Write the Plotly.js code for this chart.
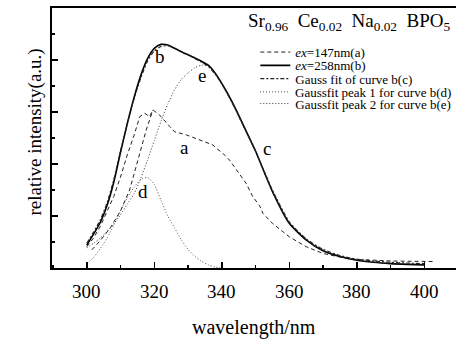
<!DOCTYPE html>
<html>
<head>
<meta charset="utf-8">
<script src="https://cdn.plot.ly/plotly-3.0.1.min.js"></script>
<style>
  html, body { margin: 0; padding: 0; background: #fff; }
  #chart { width: 457px; height: 340px; }
</style>
</head>
<body>
<div id="chart"></div>
<script>
// ---- data ----
const wavelength = [300,302,304,306,308,310,312,314,316,318,320,322,324,326,328,330,332,334,336,338,340,342,344,346,348,350,355,360,365,370,375,380,385,390,395,400];

// curve a: ex=147nm (two dashed branches on the rising side, joined by a gap)
const aWavelength = [301.5,304,307,310,312.7,315.7,317.6,319.6,null,
  300,302,304,306,308,310,312,314,315.7,317.2,318.6,319.6,321.6,324.6,326,329.5,333.4,337.4,338.4,340,342.3,345.3,347.2,349.2,351.2,352.2,355,360,365,370,375,380,385,390,395,400,402.5];
const aIntensity = [0.7,1.05,1.55,2.2,3.0,4.41,5.3,6.08,null,
  0.82,1.15,1.6,2.15,2.75,3.5,4.35,5.1,5.82,5.95,5.82,6.08,5.88,5.44,5.24,5.12,4.92,4.73,4.6,4.45,4.15,3.58,3.26,2.74,2.4,2.1,1.72,1.2,0.82,0.56,0.42,0.33,0.29,0.27,0.26,0.25,0.25];

// curve b: ex=258nm
const bIntensity = [0.88,1.3,1.75,2.4,3.3,4.45,5.55,6.55,7.4,8.05,8.45,8.6,8.58,8.45,8.32,8.2,8.08,7.95,7.8,7.5,7.1,6.65,6.15,5.6,5.05,4.5,2.95,1.72,1.08,0.66,0.44,0.3,0.22,0.17,0.14,0.12];

// curve c: Gauss fit of curve b
const cIntensity = [0.95,1.38,1.85,2.5,3.4,4.5,5.55,6.5,7.3,7.95,8.35,8.52,8.55,8.45,8.32,8.2,8.06,7.92,7.75,7.47,7.08,6.62,6.12,5.58,5.04,4.5,3.0,1.78,1.12,0.72,0.48,0.34,0.27,0.22,0.19,0.17];

// curve d: Gaussfit peak 1
const dWavelength = [300,302,304,306,308,310,312,314,316,318,320,322,324,326,328,330,332,334,336,338,340];
const dIntensity = [0.18,0.4,0.75,1.15,1.65,2.2,2.7,3.1,3.4,3.48,3.22,2.6,2.0,1.55,1.08,0.72,0.45,0.26,0.12,0.04,0.0];

// curve e: Gaussfit peak 2
const eIntensity = [0.78,0.95,1.15,1.4,1.7,2.05,2.45,2.85,3.45,4.15,4.9,5.65,6.3,6.85,7.25,7.5,7.7,7.8,7.78,7.48,7.06,6.6,6.1,5.56,5.02,4.47,2.93,1.72,1.07,0.66,0.44,0.31,0.23,0.18,0.15,0.13];

const seriesNames = ['<i>ex</i>=147nm(a)', '<i>ex</i>=258nm(b)', 'Gauss fit of curve b(c)', 'Gaussfit peak 1 for curve b(d)', 'Gaussfit peak 2 for curve b(e)'];
const curveLabels = ['a','b','c','d','e'];
const curveLabelX = [329, 321.6, 353.5, 316.6, 334];
const curveLabelY = [4.64, 8.15, 4.6, 2.93, 7.4];
const xTickValues = [300, 320, 340, 360, 380, 400];
const xTickText = ['300', '320', '340', '360', '380', '400'];
const xTitle = 'wavelength/nm';
const yTitle = 'relative intensity(a.u.)';
const chartTitle = 'Sr<sub>0.96</sub>&nbsp;&nbsp;Ce<sub>0.02</sub>&nbsp;&nbsp;Na<sub>0.02</sub>&nbsp;&nbsp;BPO<sub>5</sub>';

// ---- drawing ----
const SERIF = 'Liberation Serif';
const legendIds = ['legend', 'legend2', 'legend3', 'legend4', 'legend5'];
const legendTops = [0.888, 0.837, 0.786, 0.735, 0.690];

const traces = [
  { x: aWavelength, y: aIntensity, name: seriesNames[0], mode: 'lines', connectgaps: false,
    line: { color: '#222', width: 1, dash: '4px,3px' } },
  { x: wavelength, y: bIntensity, name: seriesNames[1], mode: 'lines',
    line: { color: '#000', width: 1.6, shape: 'spline', smoothing: 0.6 } },
  { x: wavelength, y: cIntensity, name: seriesNames[2], mode: 'lines',
    line: { color: '#222', width: 1.1, dash: '4px,2px,2px,2px', shape: 'spline', smoothing: 0.6 } },
  { x: dWavelength, y: dIntensity, name: seriesNames[3], mode: 'lines',
    line: { color: '#555', width: 1, dash: '1px,2px', shape: 'spline', smoothing: 0.6 } },
  { x: wavelength, y: eIntensity, name: seriesNames[4], mode: 'lines',
    line: { color: '#333', width: 1, dash: '1px,2px', shape: 'spline', smoothing: 0.6 } }
];
traces.forEach((t, i) => { t.legend = legendIds[i]; });

const annotations = curveLabels.map((t, i) => ({
  x: curveLabelX[i], y: curveLabelY[i], xref: 'x', yref: 'y', text: t, showarrow: false,
  font: { family: SERIF, size: 19, color: '#000' }
}));
xTickValues.forEach((v, i) => annotations.push({
  x: v, y: -0.091, xref: 'x', yref: 'paper', yanchor: 'middle', text: xTickText[i], showarrow: false,
  font: { family: SERIF, size: 19, color: '#000' }
}));
annotations.push({
  x: 0.5, y: -0.227, xref: 'paper', yref: 'paper', yanchor: 'middle', text: xTitle, showarrow: false,
  font: { family: SERIF, size: 20, color: '#000' }
});
annotations.push({
  x: -0.042, y: 0.521, xref: 'paper', yref: 'paper', xanchor: 'center', yanchor: 'middle',
  text: yTitle, textangle: -90, showarrow: false,
  font: { family: SERIF, size: 19, color: '#000' }
});
annotations.push({
  x: 0.99, y: 0.946, xref: 'paper', yref: 'paper', xanchor: 'right', yanchor: 'middle',
  text: chartTitle, showarrow: false, font: { family: SERIF, size: 19, color: '#000' }
});

const layout = {
  width: 457, height: 340,
  margin: { l: 52, r: 0, t: 8, b: 72 },
  paper_bgcolor: '#fff', plot_bgcolor: '#fff',
  font: { family: SERIF, size: 19, color: '#000' },
  showlegend: true,
  xaxis: {
    range: [289.7, 409.4], showgrid: false, zeroline: false,
    showline: true, linewidth: 2, linecolor: '#000', mirror: true,
    ticks: 'inside', tickmode: 'array', tickvals: xTickValues, ticklen: 6, tickwidth: 1.5, tickcolor: '#000',
    minor: { ticks: 'inside', dtick: 10, tick0: 300, ticklen: 3, tickwidth: 1.2, tickcolor: '#000', showgrid: false },
    showticklabels: false
  },
  yaxis: {
    range: [0, 10], showgrid: false, zeroline: false,
    showline: true, linewidth: 2, linecolor: '#000', mirror: false,
    ticks: 'inside', tick0: 0, dtick: 2, ticklen: 6, tickwidth: 1.5, tickcolor: '#000',
    minor: { ticks: 'inside', dtick: 1, tick0: 0, ticklen: 3, tickwidth: 1.2, tickcolor: '#000', showgrid: false },
    showticklabels: false
  },
  annotations: annotations
};
legendIds.forEach((id, i) => {
  layout[id] = {
    x: 0.502, y: legendTops[i], xanchor: 'left', yanchor: 'top',
    bgcolor: 'rgba(0,0,0,0)', borderwidth: 0,
    font: { family: SERIF, size: 13, color: '#000' },
    itemwidth: 30
  };
});

Plotly.newPlot('chart', traces, layout, { staticPlot: true, displayModeBar: false });
</script>
</body>
</html>
